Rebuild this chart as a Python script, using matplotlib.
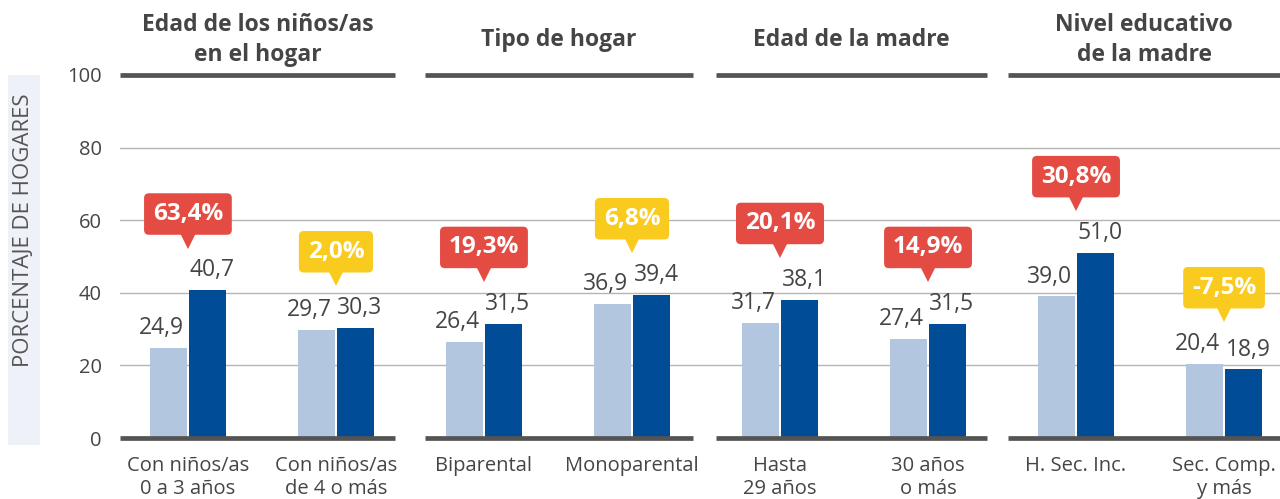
import matplotlib
matplotlib.use("Agg")
import matplotlib.pyplot as plt
from matplotlib.patches import Rectangle
import numpy as np

plt.rcParams['font.family'] = ['Open Sans', 'DejaVu Sans']

# datos
categorias = ["Con niños/as\n0 a 3 años", "Con niños/as\nde 4 o más",
              "Biparental", "Monoparental",
              "Hasta\n29 años", "30 años\no más",
              "H. Sec. Inc.", "Sec. Comp.\ny más"]
serie_a = [24.9, 29.7, 26.4, 36.9, 31.7, 27.4, 39.0, 20.4]
serie_b = [40.7, 30.3, 31.5, 39.4, 38.1, 31.5, 51.0, 18.9]
variacion = [63.4, 2.0, 19.3, 6.8, 20.1, 14.9, 30.8, -7.5]
grupos = ["Edad de los niños/as\nen el hogar", "Tipo de hogar",
          "Edad de la madre", "Nivel educativo\nde la madre"]

c_claro = "#b3c6e0"
c_oscuro = "#004c97"
c_rojo = "#e44b42"
c_amarillo = "#f9cb1f"
c_texto = "#454545"
c_linea = "#545454"

def fmt(v):
    return f"{v:.1f}".replace(".", ",")

fig = plt.figure(figsize=(12.8, 4.99), dpi=100)
ax = fig.add_axes([120/1280, 61/499, 1160/1280, 363/499])

x = np.arange(len(categorias))
w = 0.245
off = 0.132

for yv in [20, 40, 60, 80]:
    ax.axhline(yv, color="#b5b5b5", lw=1, zorder=0)

ax.bar(x - off, serie_a, w, color=c_claro, zorder=2)
ax.bar(x + off, serie_b, w, color=c_oscuro, zorder=2)

for i in range(len(x)):
    ax.text(x[i] - off - 0.045, serie_a[i] + 3.8, fmt(serie_a[i]), ha="center",
            va="baseline", fontsize=16.5, color=c_texto)
    ax.text(x[i] + off + 0.03, serie_b[i] + 3.8, fmt(serie_b[i]), ha="center",
            va="baseline", fontsize=16.5, color=c_texto)
    col = c_rojo if variacion[i] > 10 else c_amarillo
    yc = max(serie_a[i], serie_b[i]) + 21
    ax.text(x[i], yc, fmt(variacion[i]) + "%", ha="center", va="center",
            fontsize=17.5, fontweight="bold", color="white", zorder=5,
            bbox=dict(boxstyle="round,pad=0.36,rounding_size=0.2", fc=col, ec="none"))
    ax.plot(x[i], yc - 7.3, marker="v", markersize=11, color=col,
            markeredgewidth=0, zorder=4, clip_on=False)

# lineas gruesas por grupo
tramos = [(-0.459, 1.40), (1.60, 3.41), (3.57, 5.40), (5.54, 7.38)]
for (a, b), g in zip(tramos, grupos):
    for yv in [0, 100]:
        ax.plot([a, b], [yv, yv], color=c_linea, lw=3.4, solid_capstyle="butt",
                clip_on=False, zorder=3)
    ax.text((a + b) / 2, 109.6, g, ha="center", va="center", fontsize=16.5,
            fontweight="bold", color=c_texto, linespacing=1.3)

ax.set_xlim(-0.459, 7.378)
ax.set_ylim(0, 100)
ax.set_yticks([0, 20, 40, 60, 80, 100])
ax.set_xticks(x)
ax.set_xticklabels(categorias, fontsize=14.5, color=c_texto, linespacing=1.2)
ax.tick_params(axis="y", labelsize=14.5, labelcolor=c_texto, length=0, pad=13)
ax.tick_params(axis="x", length=0, pad=13)
for s in ax.spines.values():
    s.set_visible(False)

# etiqueta del eje y
fig.patches.append(Rectangle((8/1280, 54/499), 32/1280, 370/499,
                             transform=fig.transFigure, fc="#eff1f8", ec="none"))
fig.text(24/1280, 269/499, "PORCENTAJE DE HOGARES", rotation=90, ha="center",
         va="center", fontsize=16, color="#555555")

fig.savefig("out.png", dpi=100)
